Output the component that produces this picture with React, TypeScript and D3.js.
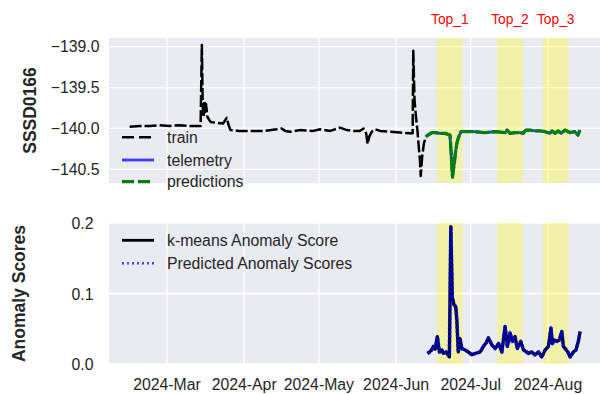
import React from "react";
import * as d3 from "d3";

// ---- Sensor SSSD0166: training segment ----
const trainTimes = [
  "2024-02-15 00:00", "2024-02-19 00:00", "2024-02-23 00:00", "2024-02-27 00:00",
  "2024-03-02 00:00", "2024-03-06 00:00", "2024-03-10 00:00", "2024-03-14 12:00",
  "2024-03-15 00:00", "2024-03-15 08:00", "2024-03-15 16:00", "2024-03-16 00:00",
  "2024-03-16 08:00", "2024-03-16 16:00", "2024-03-17 06:00", "2024-03-18 12:00",
  "2024-03-20 12:00", "2024-03-23 12:00", "2024-03-25 00:00", "2024-03-25 16:00",
  "2024-03-26 12:00", "2024-03-30 00:00", "2024-04-04 00:00", "2024-04-09 00:00",
  "2024-04-14 00:00", "2024-04-16 00:00", "2024-04-17 12:00", "2024-04-19 12:00",
  "2024-04-23 12:00", "2024-04-28 18:00", "2024-05-01 12:00", "2024-05-05 12:00",
  "2024-05-09 12:00", "2024-05-12 06:00", "2024-05-15 00:00", "2024-05-17 12:00",
  "2024-05-19 00:00", "2024-05-20 00:00", "2024-05-20 14:00", "2024-05-21 06:00",
  "2024-05-22 06:00", "2024-05-23 14:00", "2024-05-25 14:00", "2024-05-29 14:00",
  "2024-06-02 14:00", "2024-06-06 14:00", "2024-06-07 16:00", "2024-06-07 22:00",
  "2024-06-08 10:00", "2024-06-09 00:00", "2024-06-09 14:00", "2024-06-10 05:00",
  "2024-06-10 14:00", "2024-06-10 22:00", "2024-06-11 12:00", "2024-06-12 05:00",
  "2024-06-13 00:00",
];
const trainValues = [
  -139.98, -139.97, -139.97, -139.96,
  -139.97, -139.96, -139.97, -139.97,
  -138.98, -139.72, -139.86, -139.67,
  -139.8, -139.7, -139.86, -139.92,
  -139.93, -139.94, -139.87, -139.95,
  -140.02, -140.03, -140.03, -140.03,
  -140.01, -140.0, -140.03, -140.04,
  -140.02, -140.03, -140.01, -140.03,
  -139.99, -140.02, -140.03, -140.03,
  -140.0, -140.06, -140.19, -140.1,
  -140.04, -140.01, -140.03, -140.04,
  -140.05, -140.06, -140.06, -139.05,
  -139.65, -139.86, -140.02, -140.26,
  -140.38, -140.58, -140.34, -140.18,
  -140.1,
];

// ---- Test segment: measured telemetry and model predictions ----
const testTimes = [
  "2024-06-13 00:00", "2024-06-13 20:00", "2024-06-15 12:00", "2024-06-16 16:00",
  "2024-06-18 16:00", "2024-06-20 16:00", "2024-06-22 16:00", "2024-06-23 02:00",
  "2024-06-23 16:00", "2024-06-24 08:00", "2024-06-24 22:00", "2024-06-25 12:00",
  "2024-06-26 08:00", "2024-06-27 02:00", "2024-06-28 16:00", "2024-07-02 16:00",
  "2024-07-06 20:00", "2024-07-10 20:00", "2024-07-14 20:00", "2024-07-15 14:00",
  "2024-07-16 20:00", "2024-07-18 20:00", "2024-07-20 20:00", "2024-07-22 00:00",
  "2024-07-23 04:00", "2024-07-24 20:00", "2024-07-26 20:00", "2024-07-28 20:00",
  "2024-07-30 20:00", "2024-08-01 20:00", "2024-08-02 16:00", "2024-08-03 20:00",
  "2024-08-05 02:00", "2024-08-06 08:00", "2024-08-07 20:00", "2024-08-09 20:00",
  "2024-08-11 20:00", "2024-08-13 02:00", "2024-08-13 20:00",
];
const telemetryValues = [
  -140.1, -140.08, -140.05, -140.05,
  -140.06, -140.06, -140.08, -140.3,
  -140.6, -140.44, -140.28, -140.17,
  -140.09, -140.04, -140.04, -140.04,
  -140.05, -140.04, -140.05, -140.02,
  -140.06, -140.05, -140.05, -140.06,
  -140.02, -140.02, -140.03, -140.03,
  -140.04, -140.06, -140.03, -140.06,
  -140.03, -140.06, -140.02, -140.05,
  -140.04, -140.08, -140.02,
];
const predictionValues = [
  -140.1, -140.08, -140.05, -140.05,
  -140.06, -140.06, -140.08, -140.26,
  -140.59, -140.44, -140.28, -140.17,
  -140.09, -140.04, -140.04, -140.04,
  -140.05, -140.04, -140.05, -140.02,
  -140.06, -140.05, -140.05, -140.06,
  -140.02, -140.02, -140.03, -140.03,
  -140.04, -140.06, -140.03, -140.06,
  -140.03, -140.06, -140.02, -140.05,
  -140.04, -140.08, -140.02,
];

// ---- Anomaly scores ----
const scoreTimes = [
  "2024-06-13 14:00", "2024-06-14 12:00", "2024-06-15 07:00", "2024-06-16 00:00",
  "2024-06-16 17:00", "2024-06-17 14:00", "2024-06-18 10:00", "2024-06-19 10:00",
  "2024-06-20 00:00", "2024-06-21 02:00", "2024-06-22 10:00", "2024-06-23 00:00",
  "2024-06-23 14:00", "2024-06-24 07:00", "2024-06-25 00:00", "2024-06-25 10:00",
  "2024-06-26 00:00", "2024-06-26 17:00", "2024-06-27 10:00", "2024-06-28 17:00",
  "2024-06-30 02:00", "2024-07-01 10:00", "2024-07-02 17:00", "2024-07-04 19:00",
  "2024-07-06 02:00", "2024-07-07 05:00", "2024-07-08 02:00", "2024-07-09 12:00",
  "2024-07-10 19:00", "2024-07-12 05:00", "2024-07-13 12:00", "2024-07-14 19:00",
  "2024-07-15 17:00", "2024-07-16 19:00", "2024-07-17 17:00", "2024-07-18 19:00",
  "2024-07-19 17:00", "2024-07-21 02:00", "2024-07-22 05:00", "2024-07-24 05:00",
  "2024-07-25 12:00", "2024-07-26 19:00", "2024-07-28 05:00", "2024-07-29 12:00",
  "2024-07-30 22:00", "2024-08-01 05:00", "2024-08-02 05:00", "2024-08-02 19:00",
  "2024-08-03 14:00", "2024-08-04 14:00", "2024-08-05 14:00", "2024-08-06 14:00",
  "2024-08-07 05:00", "2024-08-07 22:00", "2024-08-09 00:00", "2024-08-09 22:00",
  "2024-08-11 05:00", "2024-08-12 07:00", "2024-08-13 05:00", "2024-08-13 22:00",
];
const kmeansScores = [
  0.015, 0.017, 0.02, 0.025,
  0.021, 0.039, 0.017, 0.02,
  0.015, 0.017, 0.01, 0.195,
  0.095, 0.084, 0.081, 0.062,
  0.017, 0.036, 0.022, 0.02,
  0.017, 0.013, 0.015, 0.017,
  0.025, 0.03, 0.037, 0.027,
  0.022, 0.029, 0.017, 0.053,
  0.025, 0.044, 0.032, 0.039,
  0.022, 0.032, 0.02, 0.015,
  0.017, 0.013, 0.017, 0.01,
  0.02, 0.025, 0.051, 0.029,
  0.034, 0.032, 0.034, 0.046,
  0.025, 0.022, 0.017, 0.01,
  0.017, 0.02, 0.032, 0.046,
];
const predictedScores = [
  0.015, 0.017, 0.02, 0.025,
  0.021, 0.039, 0.017, 0.02,
  0.015, 0.017, 0.01, 0.195,
  0.095, 0.084, 0.081, 0.062,
  0.017, 0.036, 0.022, 0.02,
  0.017, 0.013, 0.015, 0.017,
  0.025, 0.03, 0.037, 0.027,
  0.022, 0.029, 0.017, 0.053,
  0.025, 0.044, 0.032, 0.039,
  0.022, 0.032, 0.02, 0.015,
  0.017, 0.013, 0.017, 0.01,
  0.02, 0.025, 0.051, 0.029,
  0.034, 0.032, 0.034, 0.046,
  0.025, 0.022, 0.017, 0.01,
  0.017, 0.02, 0.032, 0.046,
];

// ---- Highlighted anomaly windows ----
const windowLabels = ["Top_1", "Top_2", "Top_3"];
const windowStarts = ["2024-06-17 10:00", "2024-07-11 13:00", "2024-07-30 00:00"];
const windowEnds = ["2024-06-27 18:00", "2024-07-22 00:00", "2024-08-09 07:00"];

// ---- Axes ----
const timeDomain = ["2024-02-06 17:00", "2024-08-21 22:00"];
const monthTicks = ["2024-03-01 00:00", "2024-04-01 00:00", "2024-05-01 00:00", "2024-06-01 00:00", "2024-07-01 00:00", "2024-08-01 00:00"];
const monthLabels = ["2024-Mar", "2024-Apr", "2024-May", "2024-Jun", "2024-Jul", "2024-Aug"];
const sensorDomain = [-140.667, -138.894];
const sensorTicks = [-139.0, -139.5, -140.0, -140.5];
const scoreDomain = [0, 0.2];
const scoreTicks = [0.0, 0.1, 0.2];

const parse = d3.timeParse("%Y-%m-%d %H:%M");
const FONT = "'Liberation Sans', Arial, Helvetica, sans-serif";
const TEXT = "#262626";
const BG = "#EAEAF2";

type Pt = { t: Date; v: number };
const zip = (times: string[], vals: number[]): Pt[] =>
  times.map((s, i) => ({ t: parse(s) as Date, v: vals[i] }));

export default function App() {
  const W = 600;
  const H = 394;
  const left = 109;
  const right = 600;
  const top1 = 38, bot1 = 183;
  const top2 = 223, bot2 = 364;

  const x = d3.scaleTime()
    .domain(timeDomain.map((s) => parse(s) as Date))
    .range([left, right]);
  const y1 = d3.scaleLinear().domain(sensorDomain).range([bot1, top1]);
  const y2 = d3.scaleLinear().domain(scoreDomain).range([bot2, top2]);

  const line1 = d3.line<Pt>().x((d) => x(d.t)).y((d) => y1(d.v));
  const line2 = d3.line<Pt>().x((d) => x(d.t)).y((d) => y2(d.v));

  const train = zip(trainTimes, trainValues);
  const telemetry = zip(testTimes, telemetryValues);
  const predictions = zip(testTimes, predictionValues);
  const kmeans = zip(scoreTimes, kmeansScores);
  const predicted = zip(scoreTimes, predictedScores);

  const months = monthTicks.map((s) => parse(s) as Date);

  const panel = (yTop: number, yBot: number, yScale: d3.ScaleLinear<number, number>, ticks: number[]) => (
    <g>
      <rect x={left} y={yTop} width={right - left} height={yBot - yTop} fill={BG} />
      {months.map((m, i) => (
        <line key={"v" + i} x1={x(m)} x2={x(m)} y1={yTop} y2={yBot} stroke="#fff" strokeWidth={1.3} />
      ))}
      {ticks.map((t, i) => (
        <line key={"h" + i} x1={left} x2={right} y1={yScale(t)} y2={yScale(t)} stroke="#fff" strokeWidth={1.3} />
      ))}
      {windowStarts.map((s, i) => {
        const a = x(parse(s) as Date);
        const b = x(parse(windowEnds[i]) as Date);
        return <rect key={"w" + i} x={a} y={yTop} width={b - a} height={yBot - yTop} fill="#ffff00" fillOpacity={0.3} />;
      })}
    </g>
  );

  const fmtSensor = (v: number) => d3.format(".1f")(v).replace("-", "\u2212");

  return (
    <svg width={W} height={H} style={{ position: "absolute", left: 0, top: 0, fontFamily: FONT }}>
      <rect width={W} height={H} fill="#fff" />

      {/* window labels */}
      {windowStarts.map((s, i) => {
        const a = x(parse(s) as Date);
        const b = x(parse(windowEnds[i]) as Date);
        return (
          <text key={"l" + i} x={(a + b) / 2} y={24} textAnchor="middle" fontSize={13.8} fill="red">
            {windowLabels[i]}
          </text>
        );
      })}

      {/* sensor panel */}
      {panel(top1, bot1, y1, sensorTicks)}
      <path d={line1(train) || ""} fill="none" stroke="#000" strokeWidth={2.5} strokeDasharray="12,3" strokeLinejoin="round" />
      <path d={line1(telemetry) || ""} fill="none" stroke="#0000ff" strokeOpacity={0.75} strokeWidth={2.8} strokeLinejoin="round" />
      <path d={line1(predictions) || ""} fill="none" stroke="#008000" strokeWidth={3.3} strokeDasharray="14,2" strokeLinejoin="round" />
      {sensorTicks.map((t, i) => (
        <text key={"s" + i} x={99.5} y={y1(t) + 5.6} textAnchor="end" fontSize={15.8} fill={TEXT}>
          {fmtSensor(t)}
        </text>
      ))}
      <text transform={`translate(35.5,${(top1 + bot1) / 2}) rotate(-90)`} textAnchor="middle" fontSize={17.5} fontWeight="bold" fill={TEXT}>
        SSSD0166
      </text>

      {/* sensor legend */}
      <g fontSize={15.8} fill={TEXT}>
        <line x1={122} x2={154} y1={137.3} y2={137.3} stroke="#000" strokeWidth={2.5} strokeDasharray="12,5" />
        <text x={167} y={143}>train</text>
        <line x1={122} x2={154} y1={160} y2={160} stroke="#0000ff" strokeOpacity={0.75} strokeWidth={2.8} />
        <text x={167} y={165.7}>telemetry</text>
        <line x1={122} x2={154} y1={181.7} y2={181.7} stroke="#008000" strokeWidth={3.3} strokeDasharray="12,4" />
        <text x={167} y={187.4}>predictions</text>
      </g>

      {/* score panel */}
      {panel(top2, bot2, y2, scoreTicks)}
      <path d={line2(kmeans) || ""} fill="none" stroke="#000" strokeWidth={3.2} strokeLinejoin="round" />
      <path d={line2(predicted) || ""} fill="none" stroke="#0000ff" strokeOpacity={0.72} strokeWidth={3.6} strokeDasharray="3,1.5" strokeLinejoin="round" />
      {scoreTicks.map((t, i) => (
        <text key={"a" + i} x={93.5} y={y2(t) + 6} textAnchor="end" fontSize={15.8} fill={TEXT}>
          {d3.format(".1f")(t)}
        </text>
      ))}
      <text transform={`translate(24.5,${(top2 + bot2) / 2}) rotate(-90)`} textAnchor="middle" fontSize={17.5} fontWeight="bold" fill={TEXT}>
        Anomaly Scores
      </text>
      {months.map((m, i) => (
        <text key={"m" + i} x={x(m)} y={390} textAnchor="middle" fontSize={15.8} fill={TEXT}>
          {monthLabels[i]}
        </text>
      ))}

      {/* score legend */}
      <g fontSize={15.8} fill={TEXT}>
        <line x1={122} x2={154} y1={240.3} y2={240.3} stroke="#000" strokeWidth={2.8} />
        <text x={167} y={246}>k-means Anomaly Score</text>
        <line x1={122} x2={154} y1={263.3} y2={263.3} stroke="#0000ff" strokeOpacity={0.7} strokeWidth={2.6} strokeDasharray="2,3" />
        <text x={167} y={269}>Predicted Anomaly Scores</text>
      </g>
    </svg>
  );
}
